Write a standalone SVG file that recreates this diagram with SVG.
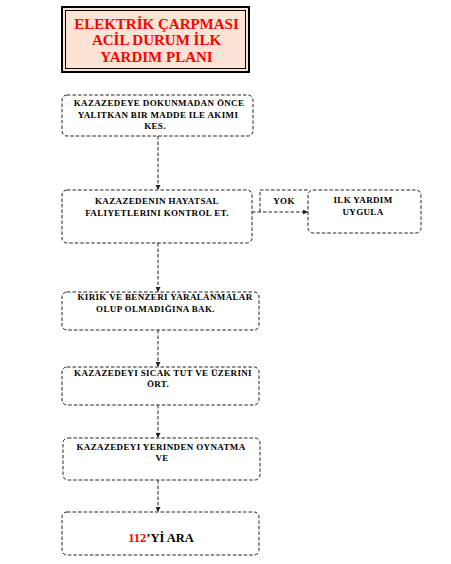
<svg xmlns="http://www.w3.org/2000/svg" width="451" height="564" viewBox="0 0 451 564">
<style>
.box{fill:#fff;stroke:#222;stroke-width:1;stroke-dasharray:3.5,2}
.t{font-family:"Liberation Serif","Times New Roman",serif;font-weight:bold;font-size:9px;letter-spacing:0.35px;fill:#000;text-anchor:middle}
.title{font-family:"Liberation Serif","Times New Roman",serif;font-weight:bold;font-size:15px;fill:#ff0000;text-anchor:middle}
.c{fill:none;stroke:#222;stroke-width:1;stroke-dasharray:3.5,2}
</style>
<defs>
<marker id="ah" viewBox="0 0 6 6" refX="6" refY="3" markerWidth="5" markerHeight="5" orient="auto" markerUnits="userSpaceOnUse">
<path d="M0,0 L6,3 L0,6 Z" fill="#222"/>
</marker>
</defs>
<rect width="451" height="564" fill="#fff"/>
<g id="title">
<rect x="62" y="7" width="187" height="65" fill="#fbe4d5" stroke="#000" stroke-width="2"/>
<rect x="65.5" y="10.5" width="180" height="58" fill="none" stroke="#000" stroke-width="1"/>
<text class="title" x="156.5" y="29">ELEKTRİK ÇARPMASI</text>
<text class="title" x="156.5" y="45">ACİL DURUM İLK</text>
<text class="title" x="156.5" y="62">YARDIM PLANI</text>
</g>
<g id="connectors">
<line class="c" x1="158" y1="136" x2="158" y2="190" marker-end="url(#ah)"/>
<line class="c" x1="158" y1="243" x2="158" y2="292" marker-end="url(#ah)"/>
<line class="c" x1="158" y1="330" x2="158" y2="367" marker-end="url(#ah)"/>
<line class="c" x1="158" y1="405" x2="158" y2="438" marker-end="url(#ah)"/>
<line class="c" x1="158" y1="480" x2="158" y2="512" marker-end="url(#ah)"/>
<line class="c" x1="252" y1="212" x2="308" y2="212" marker-end="url(#ah)"/>
</g>
<g id="yok">
<path class="c" d="M260,212 L260,190 L308,190"/>
<text class="t" x="284" y="204">YOK</text>
</g>
<g id="n1">
<rect class="box" x="62" y="95" width="191" height="41" rx="5"/>
<text class="t" x="159" y="106">KAZAZEDEYE DOKUNMADAN ÖNCE</text>
<text class="t" x="158" y="117.5">YALITKAN BIR MADDE ILE AKIMI</text>
<text class="t" x="155" y="128.5">KES.</text>
</g>
<g id="n2">
<rect class="box" x="62" y="190" width="190" height="53" rx="5"/>
<text class="t" x="157" y="204">KAZAZEDENIN HAYATSAL</text>
<text class="t" x="157" y="215.5">FALIYETLERINI KONTROL ET.</text>
</g>
<g id="n3">
<rect class="box" x="308" y="190" width="113" height="43" rx="5"/>
<text class="t" x="363" y="203">ILK YARDIM</text>
<text class="t" x="363" y="214.5">UYGULA</text>
</g>
<g id="n4">
<rect class="box" x="62" y="292" width="197" height="38" rx="5"/>
<text class="t" x="165" y="300">KIRIK VE BENZERI YARALANMALAR</text>
<text class="t" x="155.5" y="311.5">OLUP OLMADIĞINA BAK.</text>
</g>
<g id="n5">
<rect class="box" x="62" y="367" width="197" height="38" rx="5"/>
<text class="t" x="163" y="375.5">KAZAZEDEYI SICAK TUT VE ÜZERINI</text>
<text class="t" x="158" y="386.5">ÖRT.</text>
</g>
<g id="n6">
<rect class="box" x="63" y="438" width="197" height="42" rx="5"/>
<text class="t" x="161" y="450">KAZAZEDEYI YERINDEN OYNATMA</text>
<text class="t" x="162" y="461">VE</text>
</g>
<g id="n7">
<rect class="box" x="62" y="512" width="197" height="43" rx="5"/>
<text class="t" x="161" y="542" style="font-size:12.5px;letter-spacing:0"><tspan fill="#ff0000">112</tspan>’Yİ ARA</text>
</g>
</svg>
